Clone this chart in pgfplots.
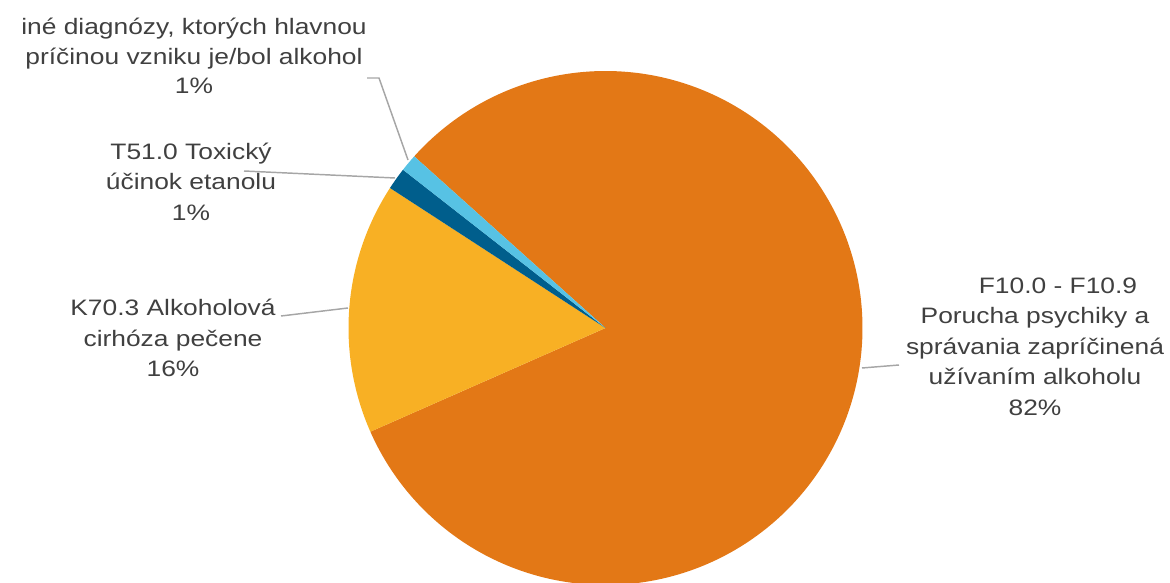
\documentclass[border=0pt]{standalone}
\usepackage{pgfplots}
\pgfplotsset{compat=1.18}
\usepackage{pgfplotstable}
\usepackage{fontspec}
\setmainfont{Liberation Sans}[FakeStretch=1.18]
\definecolor{cOrange}{HTML}{E37816}
\definecolor{cYellow}{HTML}{F8B024}
\definecolor{cDark}{HTML}{005E8C}
\definecolor{cLight}{HTML}{57C2E4}
\definecolor{cText}{HTML}{404040}
\definecolor{cLead}{HTML}{A6A6A6}

\pgfplotstableread{
label value
F10 81.75
K70 15.78
T51 1.39
ine 1.08
}\piedata

% cumulative angles (clockwise from the first slice's start)
\pgfmathsetmacro\aA{138.1}
\pgfplotstablegetelem{0}{value}\of\piedata
\pgfmathsetmacro\aB{\aA-3.6*\pgfplotsretval}
\pgfplotstablegetelem{1}{value}\of\piedata
\pgfmathsetmacro\aC{\aB-3.6*\pgfplotsretval}
\pgfplotstablegetelem{2}{value}\of\piedata
\pgfmathsetmacro\aD{\aC-3.6*\pgfplotsretval}
\pgfplotstablegetelem{3}{value}\of\piedata
\pgfmathsetmacro\aE{\aD-3.6*\pgfplotsretval}

\def\cx{605.5}
\def\cy{254}
\def\rr{257}

\newcommand\lbl[3]{\node[anchor=base,inner sep=0pt,text=cText,font=\fontsize{16.76}{20}\selectfont] at (axis cs:#1,#2) {#3};}

\begin{document}
\begin{tikzpicture}
\begin{axis}[
  width=877.5pt, height=436.5pt, scale only axis,
  xmin=0, xmax=1170, ymin=0, ymax=582,
  hide axis, clip=true,
]
\addplot[fill=cOrange, draw=none, domain=\aB:\aA, samples=300, variable=\t]
  ({\cx+\rr*cos(t)},{\cy+\rr*sin(t)}) -- (axis cs:\cx,\cy) -- cycle;
\addplot[fill=cYellow, draw=none, domain=\aC:\aB, samples=80, variable=\t]
  ({\cx+\rr*cos(t)},{\cy+\rr*sin(t)}) -- (axis cs:\cx,\cy) -- cycle;
\addplot[fill=cDark, draw=none, domain=\aD:\aC, samples=20, variable=\t]
  ({\cx+\rr*cos(t)},{\cy+\rr*sin(t)}) -- (axis cs:\cx,\cy) -- cycle;
\addplot[fill=cLight, draw=none, domain=\aE:\aD, samples=20, variable=\t]
  ({\cx+\rr*cos(t)},{\cy+\rr*sin(t)}) -- (axis cs:\cx,\cy) -- cycle;

% leader lines
\draw[cLead, line width=1.1pt] (axis cs:367,504) -- (axis cs:379,504) -- (axis cs:408,422);
\draw[cLead, line width=1.1pt] (axis cs:244,411) -- (axis cs:395,404);
\draw[cLead, line width=1.1pt] (axis cs:281,266) -- (axis cs:348,274);
\draw[cLead, line width=1.1pt] (axis cs:862,214) -- (axis cs:899,217);

% labels
\lbl{194}{547}{iné diagnózy, ktorých hlavnou}
\lbl{194}{517.5}{príčinou vzniku je/bol alkohol}
\lbl{194}{488}{1\%}

\lbl{191}{422.7}{T51.0 Toxický}
\lbl{191}{392}{účinok etanolu}
\lbl{191}{361.3}{1\%}

\lbl{173}{266.3}{K70.3 Alkoholová}
\lbl{173}{235.3}{cirhóza pečene}
\lbl{173}{205.3}{16\%}

\lbl{1058}{288.5}{F10.0 - F10.9}
\lbl{1035}{258.1}{Porucha psychiky a}
\lbl{1035}{227.7}{správania zapríčinená}
\lbl{1035}{197.3}{užívaním alkoholu}
\lbl{1035}{166.9}{82\%}

\coordinate (BL) at (axis cs:0,0);
\coordinate (TR) at (axis cs:1170,582);
\end{axis}
\pgfresetboundingbox
\path (BL) rectangle (TR);
\end{tikzpicture}
\end{document}
